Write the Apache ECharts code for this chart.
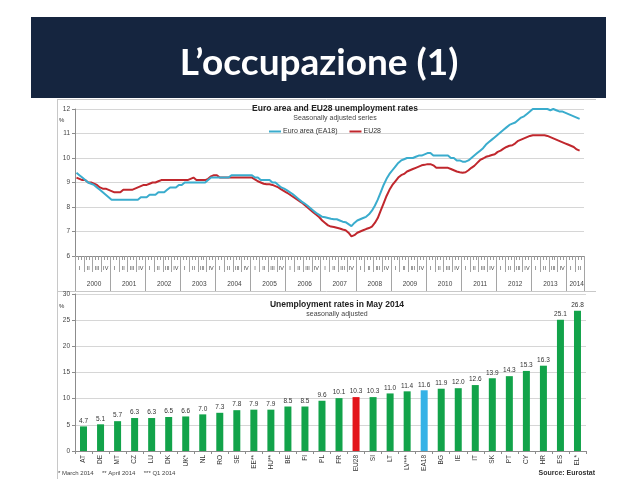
<!DOCTYPE html>
<html><head><meta charset="utf-8">
<script src="https://cdn.jsdelivr.net/npm/echarts@6/dist/echarts.min.js"></script>
<style>html,body{margin:0;padding:0;background:#fff}#c{width:638px;height:479px}</style>
</head><body><div id="c"></div>
<script>
// ---------- DATA ----------
const years = ['2000','2001','2002','2003','2004','2005','2006','2007','2008','2009','2010','2011','2012','2013','2014'];
const quarterNames = ['I','II','III','IV'];
// monthly values Jan 2000 .. May 2014
const euroArea = [
  9.4,9.3,9.2,9.1,9.0,8.95,8.9,8.8,8.7,8.6,8.5,8.4,
  8.3,8.3,8.3,8.3,8.3,8.3,8.3,8.3,8.3,8.3,8.4,8.4,
  8.4,8.5,8.5,8.5,8.6,8.6,8.6,8.7,8.8,8.8,8.8,8.9,
  8.9,9.0,9.0,9.0,9.0,9.0,9.0,9.0,9.0,9.1,9.2,9.2,
  9.2,9.2,9.2,9.2,9.2,9.3,9.3,9.3,9.3,9.3,9.3,9.3,
  9.3,9.2,9.2,9.1,9.1,9.1,9.1,9.0,9.0,8.9,8.8,8.75,
  8.68,8.6,8.52,8.42,8.32,8.22,8.14,8.05,7.95,7.85,7.75,7.68,
  7.6,7.58,7.55,7.52,7.5,7.5,7.45,7.4,7.38,7.3,7.22,7.35,
  7.45,7.5,7.55,7.6,7.7,7.85,8.05,8.3,8.6,8.9,9.15,9.35,
  9.5,9.65,9.8,9.9,9.95,10.0,10.0,10.0,10.05,10.1,10.1,10.15,
  10.2,10.2,10.1,10.1,10.1,10.1,10.1,10.1,10.0,10.0,9.9,9.9,
  9.85,9.85,9.9,10.0,10.1,10.2,10.3,10.4,10.55,10.65,10.75,10.85,
  10.95,11.05,11.15,11.25,11.35,11.4,11.45,11.55,11.65,11.7,11.8,11.9,
  12.0,12.0,12.0,12.0,12.0,12.0,11.95,12.0,11.95,11.9,11.9,11.85,
  11.8,11.75,11.7,11.65,11.6
];
const eu28 = [
  9.2,9.15,9.1,9.1,9.0,9.0,8.95,8.9,8.8,8.75,8.75,8.7,
  8.65,8.6,8.6,8.6,8.7,8.7,8.7,8.7,8.75,8.8,8.85,8.9,
  8.9,8.95,9.0,9.0,9.05,9.1,9.1,9.1,9.1,9.1,9.1,9.1,
  9.1,9.1,9.1,9.15,9.2,9.1,9.1,9.1,9.1,9.15,9.25,9.3,
  9.3,9.2,9.2,9.2,9.2,9.2,9.2,9.2,9.2,9.2,9.2,9.2,
  9.2,9.13,9.05,9.0,8.95,8.93,8.93,8.9,8.85,8.8,8.72,8.65,
  8.58,8.5,8.42,8.34,8.26,8.18,8.08,7.98,7.88,7.78,7.68,7.58,
  7.45,7.35,7.25,7.2,7.18,7.15,7.12,7.08,7.05,6.95,6.8,6.85,
  6.95,7.0,7.05,7.1,7.14,7.2,7.35,7.55,7.85,8.15,8.45,8.7,
  8.9,9.05,9.2,9.3,9.35,9.45,9.5,9.55,9.6,9.65,9.7,9.72,
  9.75,9.75,9.7,9.6,9.6,9.6,9.6,9.6,9.55,9.5,9.45,9.42,
  9.4,9.42,9.5,9.6,9.68,9.8,9.92,9.98,10.05,10.08,10.12,10.15,
  10.25,10.3,10.38,10.45,10.5,10.52,10.6,10.7,10.75,10.8,10.85,10.9,
  10.93,10.93,10.93,10.93,10.93,10.9,10.85,10.8,10.75,10.7,10.65,10.6,
  10.55,10.5,10.45,10.35,10.3
];
const countries = ['AT','DE','MT','CZ','LU','DK','UK*','NL','RO','SE','EE**','HU**','BE','FI','PL','FR','EU28','SI','LT','LV***','EA18','BG','IE','IT','SK','PT','CY','HR','ES','EL*'];
const rates = [4.7,5.1,5.7,6.3,6.3,6.5,6.6,7.0,7.3,7.8,7.9,7.9,8.5,8.5,9.6,10.1,10.3,10.3,11.0,11.4,11.6,11.9,12.0,12.6,13.9,14.3,15.3,16.3,25.1,26.8];

// ---------- BUILD ----------
const months = [];
for (let y = 2000; y <= 2014; y++) for (let m = 1; m <= 12; m++) { if (y === 2014 && m > 6) break; months.push(y + '-' + m); }

const axisGray = '#8c8c8c';
const txt = '#333';
const FF = '"Liberation Sans", Arial, sans-serif';
const barColors = countries.map(c => c === 'EU28' ? '#e3151b' : (c === 'EA18' ? '#35b2e6' : '#12a34a'));

const baseX = (extra) => Object.assign({
  type: 'category', data: months, gridIndex: 0, position: 'bottom', boundaryGap: true,
  axisLine: { show: false }, splitLine: { show: false },
  axisLabel: { show: false }, axisTick: { show: false }
}, extra);

const option = {
  animation: false,
  graphic: [
    { type: 'rect', shape: { x: 31, y: 17, width: 575, height: 81 }, style: { fill: '#15253f' } },
    { type: 'text', x: 319, y: 63, style: { text: 'L\u2019occupazione (1)', fill: '#fff', align: 'center', verticalAlign: 'middle', font: 'bold 37px Lato, "Open Sans", sans-serif' } },
    { type: 'line', shape: { x1: 57, y1: 99.5, x2: 596, y2: 99.5 }, style: { stroke: '#c8c8c8', lineWidth: 1 } },
    { type: 'line', shape: { x1: 57.5, y1: 99, x2: 57.5, y2: 479 }, style: { stroke: '#c8c8c8', lineWidth: 1 } },
    { type: 'line', shape: { x1: 57, y1: 291.5, x2: 596, y2: 291.5 }, style: { stroke: '#c8c8c8', lineWidth: 1 } },
    { type: 'text', x: 59, y: 117, style: { text: '%', fill: txt, font: '6px ' + FF } },
    { type: 'text', x: 59, y: 303, style: { text: '%', fill: txt, font: '6px ' + FF } },
    { type: 'text', x: 58, y: 470, style: { text: '* March 2014     ** April 2014     *** Q1 2014', fill: '#444', font: '6px ' + FF } },
    { type: 'text', x: 595, y: 470, style: { text: 'Source: Eurostat', fill: '#333', align: 'right', font: 'bold 7px ' + FF } }
  ],
  title: [
    { text: 'Euro area and EU28 unemployment rates', subtext: 'Seasonally adjusted series', left: 330, textAlign: 'center', top: 99, itemGap: 2,
      textStyle: { fontSize: 8.5, fontWeight: 'bold', color: '#222', fontFamily: FF },
      subtextStyle: { fontSize: 7, color: '#444', fontFamily: FF } },
    { text: 'Unemployment rates in May 2014', subtext: 'seasonally adjusted', left: 332, textAlign: 'center', top: 295, itemGap: 2,
      textStyle: { fontSize: 8.5, fontWeight: 'bold', color: '#222', fontFamily: FF },
      subtextStyle: { fontSize: 7, color: '#444', fontFamily: FF } }
  ],
  legend: {
    data: ['Euro area (EA18)', 'EU28'], left: 264, top: 123, itemWidth: 12, itemHeight: 2, itemGap: 12, icon: 'rect',
    textStyle: { fontSize: 7, color: '#333', fontFamily: FF, padding: [0, 0, 0, -3] }
  },
  grid: [
    { left: 75, right: 54, top: 109, bottom: 223 },
    { left: 75, right: 52, top: 294, bottom: 28 }
  ],
  xAxis: [
    baseX({
      axisLine: { show: true, lineStyle: { color: axisGray } },
      axisTick: { show: true, interval: 0, length: 4, lineStyle: { color: '#9a9a9a' } },
      axisLabel: { show: true, interval: (i) => i % 3 === 1, margin: 9, fontSize: 5.5, color: '#444', fontFamily: FF,
        formatter: (v, i) => quarterNames[Math.floor((i % 12) / 3)] }
    }),
    baseX({
      axisTick: { show: true, interval: (i) => i % 3 === 0, length: 16, lineStyle: { color: '#a5a5a5' } }
    }),
    baseX({
      axisTick: { show: true, interval: (i) => i % 12 === 0, length: 35, lineStyle: { color: '#a5a5a5' } },
      axisLabel: { show: true, interval: (i) => (i % 12 === 6 && i < 168) || i === 171, margin: 25, fontSize: 6.5, color: '#444', fontFamily: FF,
        formatter: (v, i) => years[Math.floor(i / 12)] }
    }),
    { type: 'category', gridIndex: 1, data: countries,
      axisLine: { lineStyle: { color: axisGray } },
      axisTick: { show: true, length: 3, lineStyle: { color: axisGray } },
      axisLabel: { rotate: 90, interval: 0, fontSize: 6.5, color: '#333', margin: 4, fontFamily: FF } }
  ],
  yAxis: [
    { type: 'value', gridIndex: 0, min: 6, max: 12, interval: 1,
      axisLine: { show: true, lineStyle: { color: axisGray } },
      axisTick: { show: true, length: 3, lineStyle: { color: axisGray } },
      axisLabel: { fontSize: 6.5, color: '#444', margin: 5, fontFamily: FF },
      splitLine: { lineStyle: { color: '#d6d6d6', width: 1 } } },
    { type: 'value', gridIndex: 1, min: 0, max: 30, interval: 5,
      axisLine: { show: true, lineStyle: { color: axisGray } },
      axisTick: { show: true, length: 3, lineStyle: { color: axisGray } },
      axisLabel: { fontSize: 6.5, color: '#444', margin: 5, fontFamily: FF },
      splitLine: { lineStyle: { color: '#d6d6d6', width: 1 } } }
  ],
  series: [
    { name: 'Euro area (EA18)', type: 'line', xAxisIndex: 0, yAxisIndex: 0, data: euroArea, showSymbol: false,
      lineStyle: { color: '#3aaccd', width: 2 }, itemStyle: { color: '#3aaccd' }, z: 3 },
    { name: 'EU28', type: 'line', xAxisIndex: 0, yAxisIndex: 0, data: eu28, showSymbol: false,
      lineStyle: { color: '#c0272d', width: 2 }, itemStyle: { color: '#c0272d' }, z: 2 },
    { name: 'rates', type: 'bar', xAxisIndex: 3, yAxisIndex: 1, barWidth: 7,
      data: rates.map((v, i) => ({ value: v, itemStyle: { color: barColors[i] } })),
      label: { show: true, position: 'top', distance: 2, fontSize: 6.5, color: '#333', fontFamily: FF,
        formatter: (p) => p.value.toFixed(1) } }
  ]
};
const chart = echarts.init(document.getElementById('c'), null, { renderer: 'canvas' });
chart.setOption(option);
</script>
</body></html>
